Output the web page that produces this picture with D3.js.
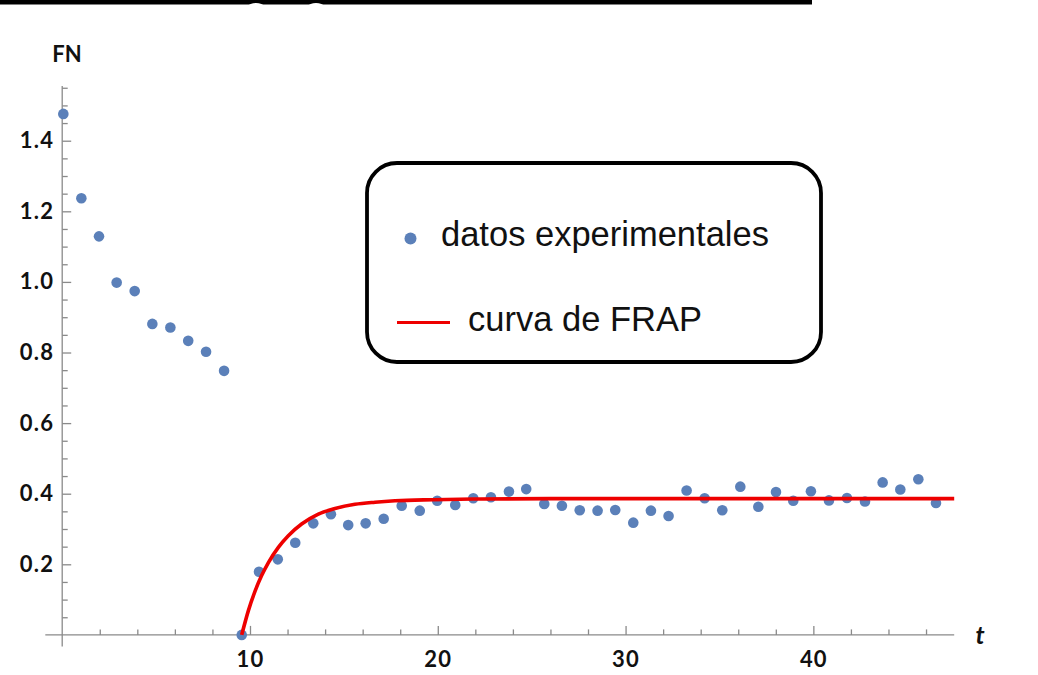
<!DOCTYPE html>
<html>
<head>
<meta charset="utf-8">
<script src="https://cdn.jsdelivr.net/npm/d3@7"></script>
<style>
  html, body { margin: 0; padding: 0; background: #fff; }
  svg { display: block; }
  svg g.axis text { font-family: Lato, 'Open Sans', sans-serif !important; font-weight: 700 !important; font-size: 22px !important; letter-spacing: 1.2px; fill: #111; }
</style>
</head>
<body>
<svg id="chart" width="1038" height="675"></svg>
<script>
// ---------- DATA ----------
const timeValues = [0.06, 1.02, 1.96, 2.90, 3.86, 4.80, 5.76, 6.71, 7.66, 8.62,
  9.56, 10.48, 11.48, 12.41, 13.37, 14.31, 15.23, 16.16, 17.12, 18.08,
  19.04, 19.97, 20.93, 21.89, 22.83, 23.79, 24.71, 25.67, 26.61, 27.56,
  28.51, 29.45, 30.41, 31.35, 32.29, 33.25, 34.21, 35.15, 36.11, 37.07,
  38.01, 38.93, 39.87, 40.83, 41.79, 42.75, 43.69, 44.63, 45.59, 46.53];
const fnValues = [1.476, 1.237, 1.129, 0.998, 0.974, 0.881, 0.871, 0.833, 0.802, 0.748,
  0.000, 0.179, 0.214, 0.261, 0.316, 0.342, 0.311, 0.316, 0.329, 0.366,
  0.352, 0.380, 0.368, 0.387, 0.390, 0.406, 0.413, 0.371, 0.366, 0.353,
  0.352, 0.354, 0.318, 0.352, 0.337, 0.409, 0.387, 0.353, 0.420, 0.363,
  0.405, 0.380, 0.407, 0.381, 0.388, 0.378, 0.432, 0.412, 0.441, 0.374];
// FRAP fitted curve
const curveT = [9.56, 9.91, 10.27, 10.62, 10.98, 11.51, 12.04, 12.75, 13.64, 14.53,
  15.59, 16.66, 17.72, 19.76, 22.25, 26.0, 30.0, 47.5];
const curveV = [0.000, 0.068, 0.124, 0.168, 0.205, 0.248, 0.281, 0.314, 0.342, 0.358,
  0.370, 0.376, 0.380, 0.383, 0.385, 0.386, 0.386, 0.386];
const xMajorTicks = [10, 20, 30, 40];
const xMinorTicks = [2, 4, 6, 8, 12, 14, 16, 18, 22, 24, 26, 28, 32, 34, 36, 38, 42, 44, 46];
const yMajorTicks = [0.2, 0.4, 0.6, 0.8, 1.0, 1.2, 1.4];
const yMinorTicks = [0.05, 0.1, 0.15, 0.25, 0.3, 0.35, 0.45, 0.5, 0.55, 0.65, 0.7, 0.75,
  0.85, 0.9, 0.95, 1.05, 1.1, 1.15, 1.25, 1.3, 1.35, 1.45, 1.5, 1.55];
const xLabel = "t";
const yLabel = "FN";
const legendLabels = ["datos experimentales", "curva de FRAP"];

// ---------- LAYOUT ----------
const svg = d3.select("#chart");
const x = d3.scaleLinear().domain([0, 47.5]).range([62.2, 954.2]);
const y = d3.scaleLinear().domain([0, 1.555]).range([634.9, 86]);
const axisColor = "#8a8a8a";
const dotColor = "#5b80b9";
const lineColor = "#ee0000";
const labelFont = "Lato, 'Open Sans', sans-serif";

// top black bar (cropped header in the reference)
svg.append("rect").attr("x", 0).attr("y", 0).attr("width", 812).attr("height", 4.5).attr("fill", "#000");
svg.append("ellipse").attr("cx", 256).attr("cy", 16).attr("rx", 14).attr("ry", 13).attr("fill", "#fff");
svg.append("ellipse").attr("cx", 316).attr("cy", 16).attr("rx", 14).attr("ry", 13).attr("fill", "#fff");

// axis lines
svg.append("line")
  .attr("x1", x(-0.9)).attr("x2", x(47.5))
  .attr("y1", y(0)).attr("y2", y(0))
  .attr("stroke", axisColor).attr("stroke-width", 1.3);
svg.append("line")
  .attr("x1", x(0)).attr("x2", x(0))
  .attr("y1", y(-0.033)).attr("y2", y(1.555))
  .attr("stroke", axisColor).attr("stroke-width", 1.3);

function styleAxis(g) {
  g.classed("axis", true).attr("font-size", 22).attr("font-family", labelFont).attr("font-weight", 700);
  g.select(".domain").remove();
  g.selectAll(".tick line").attr("stroke", axisColor).attr("stroke-width", 1.3);
  g.selectAll(".tick text").attr("fill", "#111").attr("font-size", 22).attr("font-weight", 700);
}

// x axis
svg.append("g").attr("transform", `translate(0,${y(0)})`)
  .call(d3.axisBottom(x).tickValues(xMinorTicks).tickSizeInner(-5.5).tickSizeOuter(0).tickFormat(""))
  .call(styleAxis);
svg.append("g").attr("transform", `translate(0,${y(0)})`)
  .call(d3.axisBottom(x).tickValues(xMajorTicks).tickSizeInner(-9).tickSizeOuter(0).tickPadding(16).tickFormat(d3.format("d")))
  .call(styleAxis);

// y axis
svg.append("g").attr("transform", `translate(${x(0)},0)`)
  .call(d3.axisLeft(y).tickValues(yMinorTicks).tickSizeInner(-5.5).tickSizeOuter(0).tickFormat(""))
  .call(styleAxis);
svg.append("g").attr("transform", `translate(${x(0)},0)`)
  .call(d3.axisLeft(y).tickValues(yMajorTicks).tickSizeInner(-9).tickSizeOuter(0).tickPadding(8).tickFormat(d3.format(".1f")))
  .call(styleAxis);

// axis labels
svg.append("text").attr("x", 67).attr("y", 62).attr("text-anchor", "middle")
  .attr("font-family", labelFont).attr("font-weight", 700).attr("font-size", 22)
  .attr("fill", "#111").text(yLabel);
svg.append("text").attr("x", 980).attr("y", 644).attr("text-anchor", "middle")
  .attr("font-family", labelFont).attr("font-weight", 700).attr("font-style", "italic").attr("font-size", 25)
  .attr("fill", "#111").text(xLabel);

// FRAP curve
const curveData = curveT.map((t, i) => ({ t, v: curveV[i] }));
const line = d3.line().x(d => x(d.t)).y(d => y(d.v)).curve(d3.curveMonotoneX);

// data points
const pts = timeValues.map((t, i) => ({ t, v: fnValues[i] }));
svg.append("g").selectAll("circle").data(pts).join("circle")
  .attr("cx", d => x(d.t)).attr("cy", d => y(d.v)).attr("r", 5.3)
  .attr("fill", dotColor);

svg.append("path").datum(curveData)
  .attr("d", line).attr("fill", "none")
  .attr("stroke", lineColor).attr("stroke-width", 3.6);

// legend
const lg = svg.append("g");
lg.append("rect").attr("x", 367).attr("y", 163).attr("width", 454).attr("height", 199)
  .attr("rx", 30).attr("ry", 30)
  .attr("fill", "#fff").attr("stroke", "#000").attr("stroke-width", 3.8);
lg.append("circle").attr("cx", 410.5).attr("cy", 238.5).attr("r", 6).attr("fill", dotColor);
lg.append("text").attr("x", 441).attr("y", 246)
  .attr("font-family", "'Liberation Sans', Arial, sans-serif").attr("font-size", 34.5)
  .attr("fill", "#111").text(legendLabels[0]);
lg.append("line").attr("x1", 397).attr("x2", 450).attr("y1", 322.5).attr("y2", 322.5)
  .attr("stroke", lineColor).attr("stroke-width", 3);
lg.append("text").attr("x", 468).attr("y", 331)
  .attr("font-family", "'Liberation Sans', Arial, sans-serif").attr("font-size", 34.5)
  .attr("fill", "#111").text(legendLabels[1]);
</script>
</body>
</html>
